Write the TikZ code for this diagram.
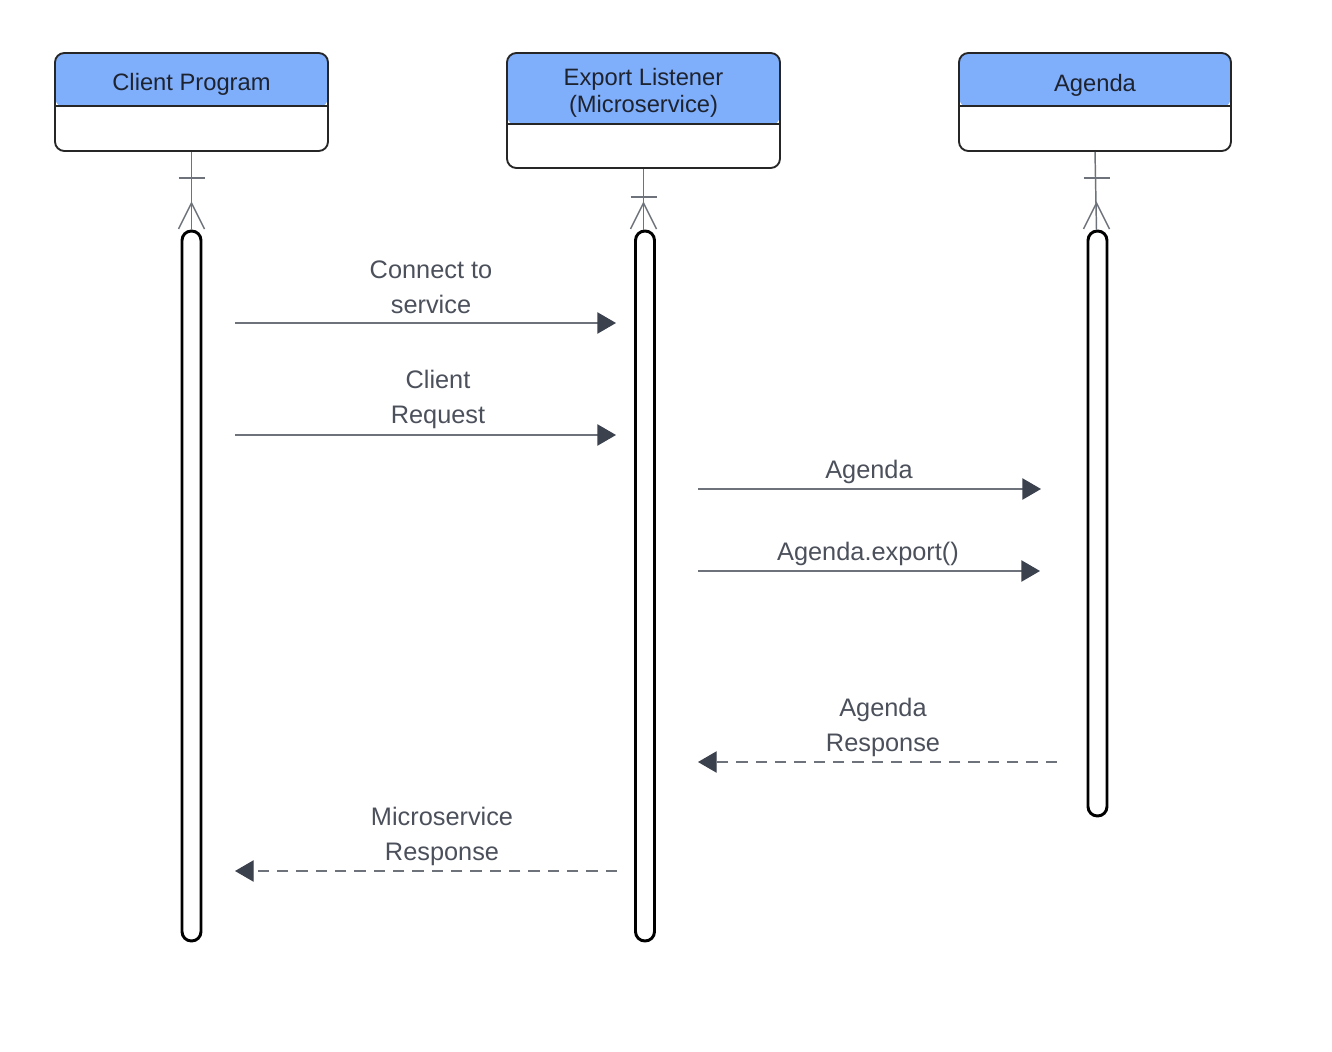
\documentclass[tikz,border=0pt]{standalone}
\usepackage{fontspec}
\setmainfont{Liberation Sans}
\usetikzlibrary{arrows.meta}
\definecolor{hdr}{HTML}{7FAEFB}
\definecolor{txt}{HTML}{1E2330}
\definecolor{lbl}{HTML}{4B505B}
\definecolor{ln}{HTML}{6E737B}
\definecolor{tip}{HTML}{3B414D}
\begin{document}
\begin{tikzpicture}[x=0.75pt,y=-0.75pt,
  box/.style={draw=black!85, line width=1.4pt, rounded corners=7pt, fill=white, inner sep=0pt},
  hbox/.style={box, path picture={\fill[hdr] (path picture bounding box.north west) rectangle ([yshift=-#1]path picture bounding box.north east);}},
  sepline/.style={draw=black!85, line width=1.4pt},
  ptitle/.style={text=txt, font=\fontsize{17.8pt}{20.5pt}\selectfont, align=center},
  bar/.style={draw=black, line width=2.2pt, fill=white, rounded corners=7pt, minimum width=14.25pt, inner sep=0pt},
  life/.style={draw=ln, line width=1.1pt},
  msg/.style={draw=ln, line width=1pt, -{Triangle[length=14pt,width=16pt,color=tip]}},
  reply/.style={msg, dash pattern=on 8.5pt off 6pt},
  lbltext/.style={text=lbl, font=\fontsize{19pt}{26pt}\selectfont, align=center}
]
\useasboundingbox (0,0) rectangle (1332,1052);

% participants
\node[hbox=40.5pt, minimum width=204.75pt, minimum height=73.5pt] (cp) at (191.5,102) {};
\draw[sepline] ([yshift=-40.5pt]cp.north west) -- ([yshift=-40.5pt]cp.north east);
\node[ptitle] (cpt) at (191.5,84) {Client Program};

\node[hbox=54pt, minimum width=204.75pt, minimum height=86.25pt] (el) at (643.5,110.5) {};
\draw[sepline] ([yshift=-54pt]el.north west) -- ([yshift=-54pt]el.north east);
\node[ptitle] (elt) at (643.5,93) {Export Listener\\(Microservice)};

\node[hbox=40.5pt, minimum width=204pt, minimum height=73.5pt] (ag) at (1095,102) {};
\draw[sepline] ([yshift=-40.5pt]ag.north west) -- ([yshift=-40.5pt]ag.north east);
\node[ptitle] (agt) at (1095,85) {Agenda};

% activation bars
\node[bar, minimum height=532.5pt] (cpbar) at (191.5,586) {};
\node[bar, minimum height=532.5pt] (elbar) at (645,586) {};
\node[bar, minimum height=438.75pt] (agbar) at (1097.5,523.5) {};

% lifelines with crow's foot
\foreach \n/\x/\c in {cp/191.5/178, el/643.5/197, ag/1096.5/178} {
  \coordinate (\n top) at (\x,230);
  \draw[life] (\n.south) -- (\n top);
  \draw[life] (\x-13,\c) -- (\x+13,\c);
  \draw[life] (\x-13,229) -- (\x,203) -- (\x+13,229);
}

% messages
\coordinate (m1s) at (235,323);  \coordinate (m1e) at (616,323);
\coordinate (m2s) at (235,435);  \coordinate (m2e) at (616,435);
\coordinate (m3s) at (698,489);  \coordinate (m3e) at (1041,489);
\coordinate (m4s) at (698,571);  \coordinate (m4e) at (1040,571);
\coordinate (r1s) at (1057,762); \coordinate (r1e) at (698,762);
\coordinate (r2s) at (617,871);  \coordinate (r2e) at (235,871);

\draw[msg] (m1s) -- (m1e);
\draw[msg] (m2s) -- (m2e);
\draw[msg] (m3s) -- (m3e);
\draw[msg] (m4s) -- (m4e);
\draw[reply] (r1s) -- (r1e);
\draw[reply] (r2s) -- (r2e);

\node[lbltext] (l1) at (431,287) {Connect to\\service};
\node[lbltext] (l2) at (438,399.5) {Client\\Request};
\node[lbltext] (l3) at (869,472) {Agenda};
\node[lbltext] (l4) at (868,554) {Agenda.export()};
\node[lbltext] (l5) at (883,727.5) {Agenda\\Response};
\node[lbltext] (l6) at (442,836.5) {Microservice\\Response};
\end{tikzpicture}
\end{document}
